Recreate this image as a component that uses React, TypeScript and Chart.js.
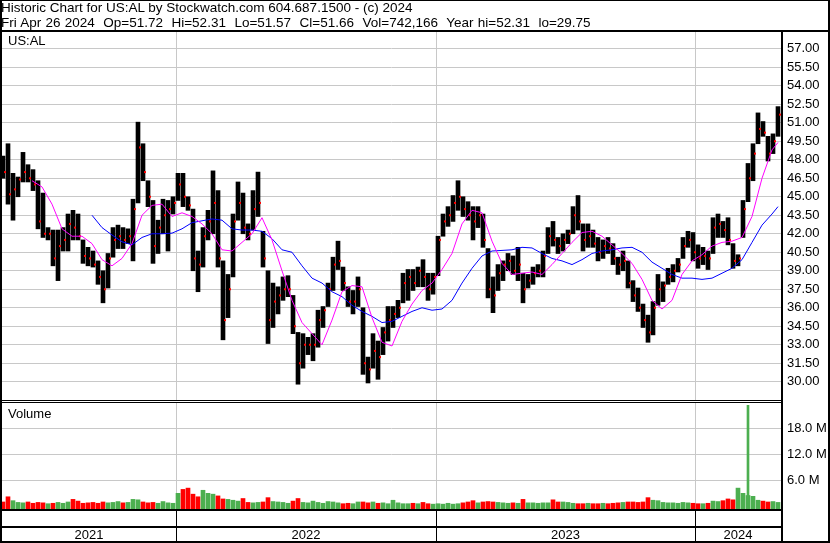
import React, { useEffect, useRef } from "react";
import { Chart, registerables } from "chart.js";

Chart.register(...registerables);

const FONT = '"Liberation Sans", Arial, Helvetica, sans-serif';

// ---- time axis (trading days from first bar) ----
const firstDay = 0;
const lastDay = 779;
const yearStartDays = [174, 434, 693];
const yearLabels = ["2021", "2022", "2023", "2024"];

// ---- weekly price ranges (low / high / close), one entry per week ----
const barLow = [
  46.5, 44.4, 43.1, 45.0, 46.2, 46.2, 45.5, 42.4, 41.7, 41.5,
  39.4, 38.2, 40.6, 40.6, 41.5, 41.5, 39.6, 39.4, 39.3, 37.9,
  36.4, 37.6, 40.1, 40.8, 40.8, 41.2, 39.8, 44.5, 46.3, 44.2,
  39.6, 40.4, 42.0, 40.6, 43.6, 44.7, 44.2, 43.9, 39.0, 37.3,
  39.3, 41.5, 42.0, 39.3, 33.4, 35.2, 38.5, 43.1, 42.0, 41.5,
  42.3, 43.4, 39.3, 33.1, 34.4, 35.5, 36.6, 36.9, 33.9, 29.8,
  31.1, 32.2, 31.7, 32.8, 34.4, 36.1, 37.4, 39.1, 37.4, 36.1,
  35.5, 36.1, 30.6, 29.9, 31.1, 30.2, 32.2, 33.3, 34.4, 35.2,
  36.4, 36.6, 37.4, 37.7, 37.7, 36.6, 37.1, 38.6, 41.8, 42.6,
  43.0, 43.9, 43.4, 43.1, 41.5, 42.5, 40.9, 36.8, 35.6, 37.4,
  38.2, 39.0, 38.7, 38.2, 36.4, 37.6, 37.9, 38.5, 38.5, 40.4,
  41.0, 40.4, 40.6, 41.2, 42.0, 42.3, 40.6, 40.9, 40.9, 39.8,
  40.0, 40.4, 39.5, 38.7, 39.0, 37.6, 36.5, 35.7, 34.4, 33.2,
  33.8, 36.2, 36.5, 37.9, 38.1, 38.9, 40.0, 40.9, 39.8, 39.2,
  39.5, 39.1, 40.4, 41.7, 41.7, 41.1, 39.2, 39.4, 41.7, 44.6,
  46.3, 49.3, 49.9, 47.9, 48.5, 49.9,
];
const barHigh = [
  48.3, 49.3, 46.9, 46.6, 48.6, 47.6, 47.2, 46.3, 45.3, 42.5,
  42.3, 42.3, 42.5, 43.6, 43.9, 43.6, 41.5, 40.9, 40.6, 39.8,
  39.0, 40.4, 42.5, 42.7, 42.5, 42.4, 44.8, 51.05, 49.3, 46.3,
  44.7, 43.1, 44.8, 44.7, 45.0, 46.9, 46.9, 45.0, 44.0, 40.6,
  42.5, 43.9, 47.1, 45.5, 39.8, 38.7, 43.6, 46.2, 45.3, 42.8,
  45.5, 47.0, 42.2, 39.0, 38.0, 37.7, 38.5, 38.6, 37.0, 34.0,
  33.9, 33.6, 33.9, 35.8, 36.1, 38.0, 40.1, 41.4, 39.3, 37.7,
  37.4, 38.5, 36.0, 32.0, 33.9, 33.3, 34.4, 36.1, 36.1, 36.6,
  38.8, 39.1, 39.1, 39.3, 39.9, 38.8, 38.8, 41.8, 43.6, 44.2,
  45.1, 46.3, 45.0, 44.6, 44.2, 44.2, 43.6, 40.8, 38.5, 39.5,
  39.8, 40.4, 40.2, 40.9, 38.8, 38.7, 39.3, 39.5, 40.6, 42.5,
  43.0, 41.7, 42.0, 42.3, 44.2, 45.1, 42.8, 42.8, 42.3, 41.7,
  41.5, 41.7, 41.2, 40.1, 40.6, 39.8, 38.2, 37.6, 36.3, 35.4,
  36.5, 38.7, 38.1, 39.2, 39.5, 40.0, 41.7, 42.2, 42.1, 41.1,
  40.9, 40.6, 43.3, 43.6, 43.0, 43.3, 41.2, 40.3, 44.7, 47.7,
  49.3, 51.8, 51.1, 49.9, 50.1, 52.31,
];
const barClose = [
  47.0, 45.2, 45.6, 46.4, 47.0, 46.5, 46.0, 43.0, 42.0, 42.0,
  40.0, 41.0, 41.5, 42.8, 42.5, 41.8, 40.2, 40.0, 39.5, 38.5,
  37.5, 40.0, 41.5, 41.8, 41.5, 41.8, 44.0, 49.0, 47.0, 45.0,
  41.0, 42.5, 43.5, 44.0, 44.5, 46.0, 45.0, 44.3, 40.0, 39.5,
  41.8, 43.0, 44.5, 40.0, 35.0, 37.5, 43.0, 44.5, 42.5, 42.0,
  44.0, 44.5, 40.0, 35.0, 36.5, 37.0, 37.5, 37.5, 34.5, 31.5,
  33.0, 33.0, 33.0, 35.0, 35.8, 37.5, 39.5, 39.8, 38.0, 36.5,
  36.5, 37.5, 31.5, 31.0, 32.5, 32.0, 34.0, 35.0, 35.5, 36.0,
  38.0, 38.5, 38.0, 39.0, 38.5, 37.5, 38.5, 41.5, 43.0, 43.5,
  44.5, 45.0, 44.0, 43.5, 43.0, 43.5, 41.5, 37.5, 37.0, 38.8,
  39.5, 39.8, 39.0, 39.5, 37.5, 38.2, 38.8, 39.0, 40.2, 41.8,
  41.5, 41.0, 41.5, 42.0, 43.5, 43.0, 41.5, 41.8, 41.2, 40.5,
  41.0, 40.8, 40.0, 39.5, 39.8, 38.0, 37.0, 36.0, 35.0, 34.0,
  36.0, 37.5, 37.8, 38.5, 39.0, 39.5, 41.0, 41.5, 40.5, 40.0,
  40.2, 40.0, 42.5, 42.8, 42.3, 41.5, 39.8, 40.0, 44.0, 46.5,
  48.5, 50.5, 50.2, 48.5, 49.5, 51.66,
];

// ---- weekly volume, millions of shares ----
const volumeM = [
  1.0, 2.2, 1.3, 0.9, 0.8, 1.0, 0.7, 0.9, 0.8, 0.6,
  0.7, 0.9, 0.7, 1.0, 1.6, 1.2, 0.7, 0.8, 0.9, 0.7,
  1.0, 0.8, 0.9, 1.1, 0.8, 0.9, 1.6, 1.5, 1.0, 0.8,
  0.9, 0.7, 1.1, 0.8, 0.7, 3.0, 3.9, 4.2, 2.8, 2.2,
  3.7, 3.0, 2.8, 2.4, 1.7, 1.6, 1.4, 1.2, 1.8, 0.9,
  0.8, 0.9, 1.0, 2.0, 1.1, 1.0, 0.9, 0.7, 1.2, 1.8,
  0.9, 0.8, 1.2, 0.9, 0.7, 1.1, 1.0, 0.8, 0.6, 0.7,
  0.6, 1.0, 1.0, 0.8, 1.0, 0.7, 0.8, 0.6, 1.4, 0.8,
  0.6, 0.6, 0.7, 0.6, 0.9, 0.6, 0.5, 0.6, 0.5, 0.7,
  0.5, 0.6, 0.8, 1.0, 1.3, 0.8, 1.0, 1.1, 1.0, 0.9,
  0.8, 0.7, 0.8, 0.7, 1.6, 0.8, 0.8, 0.7, 0.8, 0.8,
  1.5, 1.0, 1.0, 0.9, 0.7, 0.6, 0.6, 0.7, 0.6, 0.6,
  0.7, 0.6, 0.7, 0.8, 0.9, 1.0, 1.0, 0.9, 1.0, 2.0,
  1.4, 1.3, 0.9, 0.8, 0.8, 0.7, 0.9, 0.8, 0.7, 0.6,
  0.6, 0.7, 1.2, 1.1, 1.3, 1.7, 1.5, 4.2, 3.0, 2.5,
  2.3, 1.4, 1.2, 1.0, 1.1, 0.9,
];
const spikeDay = 746;
const spikeVolM = 23.3;

// ---- moving averages (sampled by trading day) ----
const maFastDays = [
  30, 40, 50, 60, 70, 80, 90, 100, 110, 120,
  130, 140, 150, 160, 170, 180, 190, 200, 210, 220,
  230, 240, 250, 260, 270, 280, 290, 300, 310, 320,
  330, 340, 350, 360, 370, 380, 390, 400, 410, 420,
  430, 440, 450, 460, 470, 480, 490, 500, 510, 520,
  530, 540, 550, 560, 570, 580, 590, 600, 610, 620,
  630, 640, 650, 660, 670, 680, 690, 700, 710, 720,
  730, 740, 750, 760, 770, 776,
];
const maFastVals = [
  46.3, 45.8, 44.4, 42.4, 41.8, 41.8, 41.2, 39.9, 39.4, 40.0,
  41.2, 43.5, 44.3, 44.4, 43.4, 43.7, 43.4, 42.8, 42.0, 40.7,
  40.6, 41.3, 42.0, 43.3, 41.5, 39.0, 36.6, 34.8, 33.9, 33.0,
  35.0, 37.3, 37.8, 37.7, 35.2, 33.2, 32.9, 34.9, 36.3, 37.4,
  38.0, 39.1, 40.4, 42.8, 43.9, 43.7, 41.4, 39.6, 38.7, 38.8,
  38.9, 38.7, 39.5, 40.4, 41.3, 42.1, 42.2, 41.8, 41.1, 40.4,
  39.6, 38.3, 36.6, 35.9, 36.6, 38.7, 39.8, 40.3, 41.0, 41.3,
  41.4, 41.7, 43.4, 46.5, 48.8, 49.4,
];
const maSlowDays = [
  90, 100, 110, 120, 130, 140, 150, 160, 170, 180,
  190, 200, 210, 220, 230, 240, 250, 260, 270, 280,
  290, 300, 310, 320, 330, 340, 350, 360, 370, 380,
  390, 400, 410, 420, 430, 440, 450, 460, 470, 480,
  490, 500, 510, 520, 530, 540, 550, 560, 570, 580,
  590, 600, 610, 620, 630, 640, 650, 660, 670, 680,
  690, 700, 710, 720, 730, 740, 750, 760, 770, 776,
];
const maSlowVals = [
  43.5, 42.5, 41.9, 41.35, 41.1, 41.7, 42.0, 42.0, 42.05, 42.4,
  42.9, 43.05, 43.2, 43.1, 42.4, 42.3, 42.3, 42.2, 41.6, 40.7,
  40.5, 39.4, 38.4, 38.0, 37.3, 36.9, 36.2, 35.7, 35.3, 34.8,
  34.9, 35.3, 35.7, 36.0, 35.8, 35.9, 36.6, 38.0, 39.2, 40.2,
  40.6, 40.65, 40.7, 40.9, 40.85, 40.4, 40.0, 39.8, 39.5, 39.9,
  40.4, 40.6, 40.7, 40.85, 40.9, 40.5, 39.7, 39.2, 38.7, 38.4,
  38.4, 38.3, 38.4, 38.8, 39.2, 39.9, 41.3, 42.7, 43.6, 44.2,
];

// ---- axes ----
const priceMin = 28.52;
const priceMax = 58.36;
const priceTicks = [30, 31.5, 33, 34.5, 36, 37.5, 39, 40.5, 42, 43.5, 45, 46.5, 48, 49.5, 51, 52.5, 54, 55.5, 57];
const volMinM = -0.62;
const volMaxM = 23.84;
const volTicksM = [6, 12, 18];

const headerLine1 = "Historic Chart for US:AL by Stockwatch.com 604.687.1500 - (c) 2024";
const headerLine2 = "Fri Apr 26 2024  Op=51.72  Hi=52.31  Lo=51.57  Cl=51.66  Vol=742,166  Year hi=52.31  lo=29.75";

const GRID = "#c8c8c8";
const RED = "#ff0000";
const GREEN = "#4caf50";

// centre of week i on the trading-day axis
const weekDay = (i: number) => 5 * i + 1;

function xScale(): any {
  return {
    type: "linear",
    min: firstDay,
    max: lastDay,
    offset: false,
    grid: { color: GRID, drawTicks: false, offset: false, lineWidth: 1 },
    border: { display: false },
    ticks: { display: false },
    afterBuildTicks: (s: any) => {
      s.ticks = yearStartDays.map((v) => ({ value: v }));
    },
    afterFit: (s: any) => {
      s.height = 0;
      s.paddingLeft = 0;
      s.paddingRight = 0;
      s.paddingTop = 0;
      s.paddingBottom = 0;
    },
  };
}

export default function App() {
  const priceRef = useRef<HTMLCanvasElement>(null);
  const volRef = useRef<HTMLCanvasElement>(null);

  useEffect(() => {
    const bars = barLow.map((lo, i) => ({ x: weekDay(i), y: [lo, barHigh[i]] }));
    const closes = barClose.map((c, i) => ({ x: weekDay(i) + 2, y: c }));
    const fast = maFastDays.map((d, i) => ({ x: d, y: maFastVals[i] }));
    const slow = maSlowDays.map((d, i) => ({ x: d, y: maSlowVals[i] }));

    const price = new Chart(priceRef.current as HTMLCanvasElement, {
      type: "bar",
      data: {
        datasets: [
          {
            type: "line",
            data: fast,
            borderColor: "#ff00ff",
            borderWidth: 1,
            pointRadius: 0,
            tension: 0,
            order: 0,
          } as any,
          {
            type: "line",
            data: slow,
            borderColor: "#0000ff",
            borderWidth: 1,
            pointRadius: 0,
            tension: 0,
            order: 0,
          } as any,
          {
            type: "scatter",
            data: closes,
            pointStyle: "rect",
            pointRadius: 1.42,
            pointBorderWidth: 0,
            borderWidth: 0,
            backgroundColor: RED,
            pointBackgroundColor: RED,
            showLine: false,
            order: 1,
          } as any,
          {
            type: "bar",
            data: bars,
            backgroundColor: "#000000",
            borderWidth: 0,
            barThickness: 4,
            grouped: false,
            order: 2,
          } as any,
        ],
      },
      options: {
        animation: false,
        responsive: false,
        maintainAspectRatio: false,
        devicePixelRatio: 1,
        events: [],
        layout: { padding: { left: 2, right: 0, top: 0, bottom: 0 }, autoPadding: false } as any,
        plugins: { legend: { display: false }, tooltip: { enabled: false } },
        scales: {
          x: xScale(),
          y: {
            type: "linear",
            position: "right",
            min: priceMin,
            max: priceMax,
            grid: { color: GRID, drawTicks: false },
            border: { display: false },
            ticks: {
              padding: 6,
              color: "#000",
              font: { family: FONT, size: 13 },
              callback: (v: any) => Number(v).toFixed(2),
            },
            afterBuildTicks: (s: any) => {
              s.ticks = priceTicks.map((v) => ({ value: v }));
            },
            afterFit: (s: any) => {
              s.width = 49;
              s.paddingTop = 0;
              s.paddingBottom = 0;
            },
          } as any,
        },
      },
    });

    const vols = volumeM.map((v, i) => ({ x: weekDay(i), y: v }));
    const volColors = volumeM.map((_, i) => {
      const prev = i === 0 ? barClose[0] + 1 : barClose[i - 1];
      return barClose[i] >= prev ? GREEN : RED;
    });

    const yearBand = {
      id: "yearBand",
      afterDraw(chart: any) {
        const { ctx, chartArea, scales } = chart;
        const x = scales.x;
        ctx.save();
        ctx.fillStyle = "#000";
        const bandTop = chartArea.bottom + 2;
        const bandBottom = chart.height - 2;
        yearStartDays.forEach((d) => {
          const px = Math.round(x.getPixelForValue(d));
          ctx.fillRect(px, bandTop, 1, bandBottom - bandTop);
        });
        const bounds = [firstDay, ...yearStartDays, lastDay];
        ctx.font = `13px ${FONT}`;
        ctx.textAlign = "center";
        ctx.textBaseline = "alphabetic";
        yearLabels.forEach((lab, i) => {
          const cx = (x.getPixelForValue(bounds[i]) + x.getPixelForValue(bounds[i + 1])) / 2;
          ctx.fillText(lab, cx, chart.height - 4);
        });
        ctx.restore();
      },
    };

    const volume = new Chart(volRef.current as HTMLCanvasElement, {
      type: "bar",
      data: {
        datasets: [
          {
            data: [{ x: spikeDay, y: spikeVolM }],
            backgroundColor: GREEN,
            borderWidth: 0,
            barThickness: 2,
            grouped: false,
            base: volMinM,
            order: 0,
          } as any,
          {
            data: vols,
            backgroundColor: volColors,
            borderWidth: 0,
            barThickness: 4,
            grouped: false,
            base: volMinM,
            order: 1,
          } as any,
        ],
      },
      options: {
        animation: false,
        responsive: false,
        maintainAspectRatio: false,
        devicePixelRatio: 1,
        events: [],
        layout: { padding: { left: 2, right: 0, top: 0, bottom: 34 }, autoPadding: false } as any,
        plugins: { legend: { display: false }, tooltip: { enabled: false } },
        scales: {
          x: xScale(),
          y: {
            type: "linear",
            position: "right",
            min: volMinM,
            max: volMaxM,
            grid: { color: GRID, drawTicks: false },
            border: { display: false },
            ticks: {
              padding: 6,
              color: "#000",
              font: { family: FONT, size: 13 },
              callback: (v: any) => `${Number(v).toFixed(1)} M`,
            },
            afterBuildTicks: (s: any) => {
              s.ticks = volTicksM.map((v) => ({ value: v }));
            },
            afterFit: (s: any) => {
              s.width = 49;
              s.paddingTop = 0;
              s.paddingBottom = 0;
            },
          } as any,
        },
      },
      plugins: [yearBand],
    });

    return () => {
      price.destroy();
      volume.destroy();
    };
  }, []);

  const line = (l: number, t: number, w: number, h: number) => (
    <div style={{ position: "absolute", left: l, top: t, width: w, height: h, background: "#000" }} />
  );
  const text: React.CSSProperties = {
    position: "absolute",
    whiteSpace: "pre",
    color: "#000",
    fontFamily: FONT,
    lineHeight: "15px",
  };

  return (
    <div
      style={{
        position: "fixed",
        left: 0,
        top: 0,
        width: 830,
        height: 543,
        background: "#fff",
        overflow: "hidden",
      }}
    >
      <canvas ref={priceRef} width={830} height={368} style={{ position: "absolute", left: 0, top: 32 }} />
      <canvas ref={volRef} width={830} height={140} style={{ position: "absolute", left: 0, top: 403 }} />
      {line(0, 0, 830, 1)}
      {line(0, 0, 2, 543)}
      {line(828, 0, 2, 543)}
      {line(0, 541, 830, 2)}
      {line(0, 30, 830, 2)}
      {line(781, 32, 2, 511)}
      {line(0, 400, 781, 1)}
      {line(0, 402, 781, 1)}
      {line(0, 509, 781, 2)}
      {line(0, 526, 781, 2)}
      <div style={{ ...text, left: 1, top: 0, fontSize: 13.5 }}>{headerLine1}</div>
      <div style={{ ...text, left: 1, top: 15, fontSize: 13.5, wordSpacing: 0.5 }}>{headerLine2}</div>
      <div style={{ ...text, left: 8, top: 33, fontSize: 13 }}>US:AL</div>
      <div style={{ ...text, left: 8, top: 406, fontSize: 13 }}>Volume</div>
    </div>
  );
}
